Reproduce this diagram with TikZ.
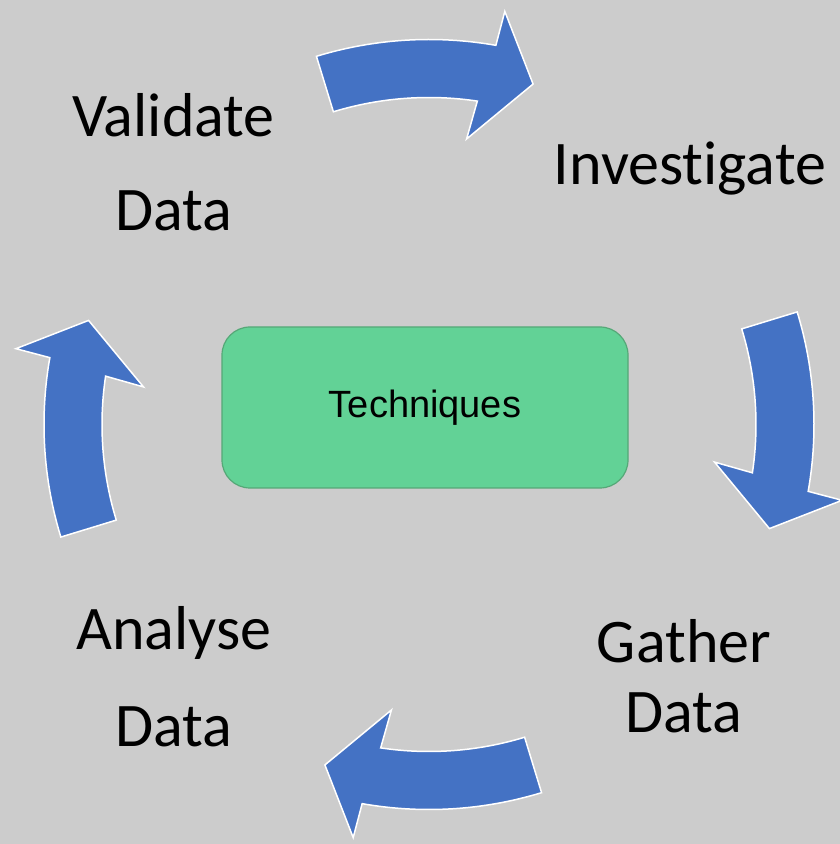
\documentclass[tikz,border=0pt]{standalone}
\usepackage{fontspec}
\setmainfont{Carlito}[Ligatures=NoCommon]
\newfontfamily\arialfont{Liberation Sans}
\definecolor{bggray}{HTML}{CCCCCC}
\definecolor{cycleblue}{HTML}{4472C4}
\definecolor{boxgreen}{HTML}{62D296}
\definecolor{boxedge}{HTML}{55A877}

\begin{document}
\begin{tikzpicture}[x=1pt,y=1pt]
    \fill[bggray] (0,0) rectangle (840,844);
    \useasboundingbox (0,0) rectangle (840,844);
    % four curved arrows round the centre
    \foreach \a in {0,-90,180,90} {
        \filldraw[cycleblue, draw=white, line width=1.5pt, shift={(429,419.5)}, rotate=\a]
            (17:385) arc[start angle=17, end angle=-10, radius=385]
            -- (-10.4:420) -- (-17:356) -- (-7.5:288) -- (-8.5:327)
            arc[start angle=-8.5, end angle=17, radius=327] -- cycle;
    }
    \node[draw=boxedge, fill=boxgreen, line width=1.2pt, rounded corners=28pt,
          minimum width=406pt, minimum height=161pt,
          font=\arialfont\fontsize{38}{44}\selectfont] (tech) at (425,436.5) {Techniques};
    \node[anchor=base, inner sep=0pt, font=\fontsize{62}{74}\selectfont] (invest) at (690,659) {Investigate};
    \node[anchor=south, inner sep=0pt, align=center, font=\fontsize{62}{70}\selectfont] (gather) at (684,111) {Gather\\Data};
    \node[anchor=south, inner sep=0pt, align=center, font=\fontsize{62}{97}\selectfont] (analyse) at (174,97) {Analyse\\Data};
    \node[anchor=south, inner sep=0pt, align=center, font=\fontsize{62}{94}\selectfont] (valid) at (173.5,613) {Validate\\Data};
\end{tikzpicture}
\end{document}
